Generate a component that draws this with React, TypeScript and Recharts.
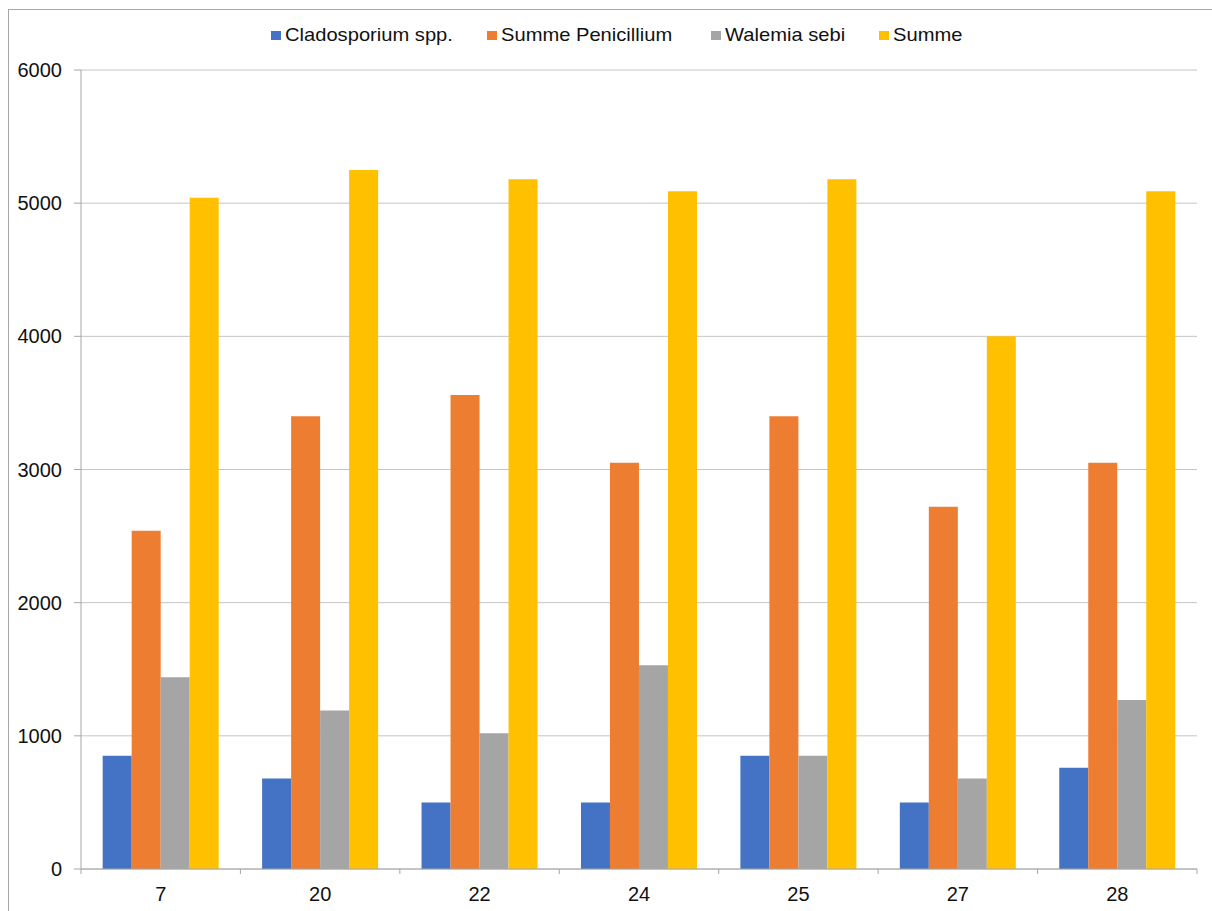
import React from "react";
import { BarChart, Bar, XAxis, YAxis, CartesianGrid } from "recharts";

// Kategorien (x-Achse) und Messwerte je Serie
const categories = ["7", "20", "22", "24", "25", "27", "28"];
const cladosporium = [850, 680, 500, 500, 850, 500, 760];
const penicillium = [2540, 3400, 3560, 3050, 3400, 2720, 3050];
const walemia = [1440, 1190, 1020, 1530, 850, 680, 1270];
const summe = [5040, 5250, 5180, 5090, 5180, 4000, 5090];
const yTicks = [0, 1000, 2000, 3000, 4000, 5000, 6000];

const SERIES = [
    { key: "cladosporium", name: "Cladosporium spp.", color: "#4472C4", legendX: 262 },
    { key: "penicillium", name: "Summe Penicillium", color: "#ED7D31", legendX: 478 },
    { key: "walemia", name: "Walemia sebi", color: "#A5A5A5", legendX: 702 },
    { key: "summe", name: "Summe", color: "#FFC000", legendX: 870 },
];

const AXIS = "#a6a6a6";
const GRID = "#c4c4c4";
const FONT = "'Liberation Sans', Arial, sans-serif";

const data = categories.map((label, i) => ({
    label,
    cladosporium: cladosporium[i],
    penicillium: penicillium[i],
    walemia: walemia[i],
    summe: summe[i],
}));

// x-Achse: Teilstriche an den Kategoriegrenzen, Beschriftung mittig
const XTick = (props: any) => {
    const { x, y, payload, index, width, visibleTicksCount } = props;
    const half = payload?.offset ?? width / visibleTicksCount / 2;
    return (
        <g>
            <line x1={x - half} x2={x - half} y1={y} y2={y + 5} stroke={AXIS} />
            {index === visibleTicksCount - 1 && (
                <line x1={x + half} x2={x + half} y1={y} y2={y + 5} stroke={AXIS} />
            )}
            <text
                x={x}
                y={y + 18}
                dy="0.71em"
                textAnchor="middle"
                fill="#111"
                fontSize={20}
                fontFamily={FONT}
            >
                {payload.value}
            </text>
        </g>
    );
};

export default function App() {
    return (
        <div
            style={{
                position: "fixed",
                left: 8,
                top: 9,
                width: 1204,
                height: 902,
                boxSizing: "border-box",
                borderTop: `1px solid ${AXIS}`,
                borderLeft: `1px solid ${AXIS}`,
                overflow: "hidden",
                background: "#fff",
                fontFamily: FONT,
            }}
        >
            {/* Legende */}
            {SERIES.map((s) => (
                <div
                    key={s.key}
                    style={{
                        position: "absolute",
                        left: s.legendX,
                        top: 15,
                        height: 20,
                        display: "flex",
                        alignItems: "center",
                        whiteSpace: "nowrap",
                        fontSize: 19,
                        color: "#111",
                    }}
                >
                    <span style={{ width: 10, height: 9, background: s.color, marginRight: 4, flex: "none" }} />
                    <span style={{ display: "inline-block", transform: "scaleX(1.06)", transformOrigin: "left center" }}>
                        {s.name}
                    </span>
                </div>
            ))}

            <BarChart
                width={1203}
                height={901}
                data={data}
                margin={{ top: 60, right: 15, bottom: 12, left: 0 }}
                barCategoryGap="13.6%"
                barGap={0}
            >
                <CartesianGrid vertical={false} stroke={GRID} strokeWidth={1} />
                <XAxis
                    dataKey="label"
                    height={30}
                    axisLine={{ stroke: AXIS }}
                    tickLine={false}
                    tickSize={0}
                    tickMargin={0}
                    tick={<XTick />}
                    interval={0}
                />
                <YAxis
                    width={72}
                    domain={[0, 6000]}
                    ticks={yTicks}
                    axisLine={{ stroke: AXIS }}
                    tickLine={{ stroke: AXIS }}
                    tickSize={7}
                    tickMargin={12}
                    tick={{ fill: "#111", fontSize: 20, fontFamily: FONT }}
                />
                {SERIES.map((s) => (
                    <Bar key={s.key} dataKey={s.key} name={s.name} fill={s.color} isAnimationActive={false} />
                ))}
            </BarChart>
        </div>
    );
}
